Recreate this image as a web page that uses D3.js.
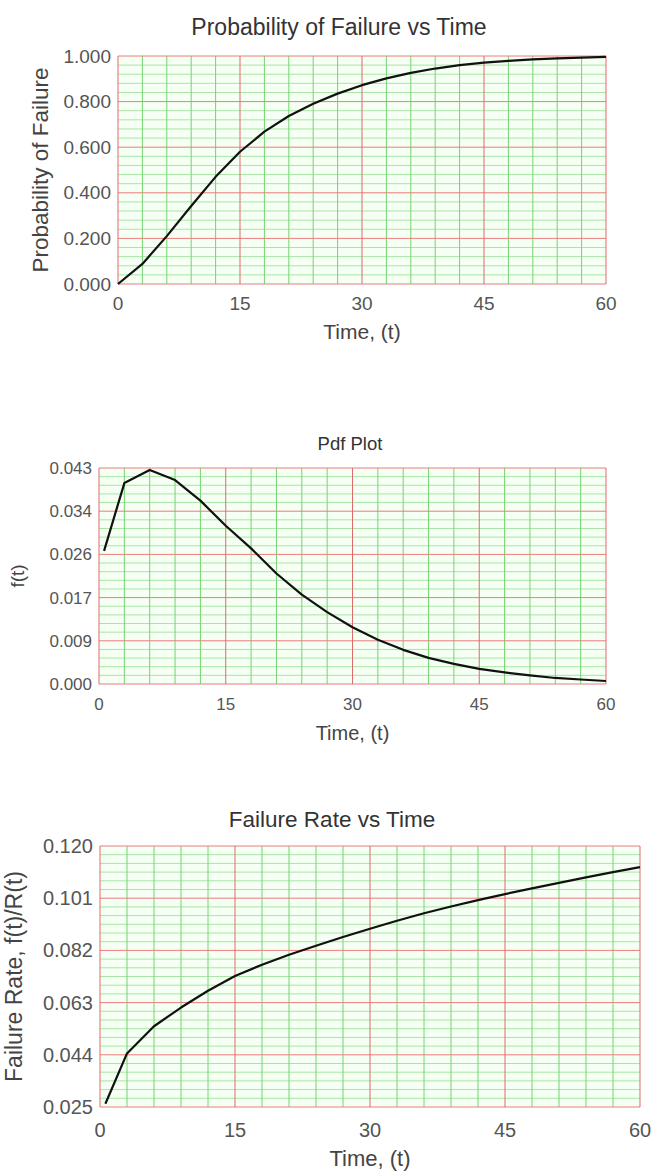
<!DOCTYPE html>
<html>
<head>
<meta charset="utf-8">
<script src="https://cdn.jsdelivr.net/npm/d3@7"></script>
<style>
  body { margin: 0; background: #fff; }
  svg { display: block; font-family: "Liberation Sans", Arial, sans-serif; }
</style>
</head>
<body>
<svg id="chart" width="661" height="1176"></svg>
<script>
(function () {
  'use strict';

  var timeCdf = [0, 3, 6, 9, 12, 15, 18, 21, 24, 27, 30, 33, 36, 39, 42, 45, 48, 51, 54, 57, 60];
  var probFailure = [0, 0.088, 0.21, 0.342, 0.47, 0.58, 0.668, 0.737, 0.791, 0.835, 0.872,
    0.902, 0.926, 0.945, 0.96, 0.971, 0.979, 0.985, 0.99, 0.993, 0.996];

  var timePdf = [0.6, 3, 6, 9, 12, 15, 18, 21, 24, 27, 30, 33, 36, 39, 42, 45, 48, 51, 54, 57, 60];
  var pdfValues = [0.0265, 0.0400, 0.0426, 0.0406, 0.0365, 0.0315, 0.027, 0.022, 0.0178, 0.0143,
    0.0113, 0.0088, 0.0068, 0.0052, 0.0040, 0.0030, 0.0023, 0.0017, 0.0012, 0.0009, 0.0006];
  var failureRate = [0.0262, 0.0445, 0.0544, 0.0612, 0.0673, 0.0727, 0.0768, 0.0804, 0.0837, 0.0869,
    0.0899, 0.0928, 0.0955, 0.098, 0.1003, 0.1025, 0.1046, 0.1066, 0.1086, 0.1105, 0.1123];

  var xTicks = [0, 15, 30, 45, 60];
  var cdfTicks = [0, 0.2, 0.4, 0.6, 0.8, 1.0];
  var pdfTicks = [0, 0.0086, 0.0172, 0.0258, 0.0344, 0.043];
  var rateTicks = [0.025, 0.044, 0.063, 0.082, 0.101, 0.120];

  var svg = d3.select('#chart');

  var charts = [
    {
      title: 'Probability of Failure vs Time', titleX: 339, titleY: 27, titleSize: 23,
      yTitle: 'Probability of Failure', yTitleX: 40, yTitleSize: 22.5,
      xTitleY: 332, xTitleSize: 21, tickSize: 19, xLabY: 19,
      left: 118, right: 606, top: 56, bottom: 284,
      xs: timeCdf, ys: probFailure, yTicks: cdfTicks, ySub: 5
    },
    {
      title: 'Pdf Plot', titleX: 350, titleY: 444, titleSize: 18.5,
      yTitle: 'f(t)', yTitleX: 17, yTitleSize: 19,
      xTitleY: 733, xTitleSize: 20, tickSize: 17, xLabY: 20,
      left: 99, right: 606, top: 468, bottom: 684,
      xs: timePdf, ys: pdfValues, yTicks: pdfTicks, ySub: 5
    },
    {
      title: 'Failure Rate vs Time', titleX: 332, titleY: 819, titleSize: 22.5,
      yTitle: 'Failure Rate, f(t)/R(t)', yTitleX: 14, yTitleSize: 23,
      xTitleY: 1158, xTitleSize: 22, tickSize: 20, xLabY: 23,
      left: 100, right: 640, top: 846, bottom: 1107,
      xs: timePdf, ys: failureRate, yTicks: rateTicks, ySub: 6
    }
  ];

  charts.forEach(function (c) {
    var x = d3.scaleLinear().domain([0, 60]).range([c.left, c.right]);
    var y = d3.scaleLinear()
      .domain([c.yTicks[0], c.yTicks[c.yTicks.length - 1]])
      .range([c.bottom, c.top]);

    var g = svg.append('g');

    g.append('rect')
      .attr('x', c.left).attr('y', c.top)
      .attr('width', c.right - c.left).attr('height', c.bottom - c.top)
      .attr('fill', '#f5fff3');

    // minor horizontal lines
    var yMinor = [];
    for (var i = 0; i < c.yTicks.length - 1; i++) {
      var step = (c.yTicks[i + 1] - c.yTicks[i]) / c.ySub;
      for (var k = 1; k < c.ySub; k++) {
        yMinor.push(c.yTicks[i] + k * step);
      }
    }
    g.selectAll('.hminor').data(yMinor).enter().append('line')
      .attr('x1', c.left).attr('x2', c.right)
      .attr('y1', function (d) { return y(d); })
      .attr('y2', function (d) { return y(d); })
      .attr('stroke', '#a9e6a6').attr('stroke-width', 1);

    // minor vertical lines every 3 units
    var xMinor = d3.range(3, 60, 3).filter(function (d) { return d % 15 !== 0; });
    g.selectAll('.vminor').data(xMinor).enter().append('line')
      .attr('y1', c.top).attr('y2', c.bottom)
      .attr('x1', function (d) { return x(d); })
      .attr('x2', function (d) { return x(d); })
      .attr('stroke', '#74d471').attr('stroke-width', 1);

    // major grid
    g.selectAll('.hmajor').data(c.yTicks).enter().append('line')
      .attr('x1', c.left).attr('x2', c.right)
      .attr('y1', function (d) { return y(d); })
      .attr('y2', function (d) { return y(d); })
      .attr('stroke', '#ec7c7c').attr('stroke-width', 1);
    g.selectAll('.vmajor').data(xTicks).enter().append('line')
      .attr('y1', c.top).attr('y2', c.bottom)
      .attr('x1', function (d) { return x(d); })
      .attr('x2', function (d) { return x(d); })
      .attr('stroke', '#e06a6a').attr('stroke-width', 1);

    // curve
    var line = d3.line()
      .x(function (d) { return x(d[0]); })
      .y(function (d) { return y(d[1]); });
    g.append('path')
      .datum(d3.zip(c.xs, c.ys))
      .attr('d', line)
      .attr('fill', 'none')
      .attr('stroke', '#111')
      .attr('stroke-width', 2.2)
      .attr('stroke-linejoin', 'round');

    // tick labels
    g.selectAll('.xlab').data(xTicks).enter().append('text')
      .attr('x', function (d) { return x(d); })
      .attr('y', c.bottom + c.xLabY)
      .attr('dy', '0.35em')
      .attr('text-anchor', 'middle')
      .attr('font-size', c.tickSize)
      .attr('fill', '#555')
      .text(function (d) { return d; });
    g.selectAll('.ylab').data(c.yTicks).enter().append('text')
      .attr('x', c.left - 7)
      .attr('y', function (d) { return y(d); })
      .attr('dy', '0.35em')
      .attr('text-anchor', 'end')
      .attr('font-size', c.tickSize)
      .attr('fill', '#555')
      .text(function (d) { return d3.format('.3f')(d); });

    // titles
    g.append('text')
      .attr('x', c.titleX).attr('y', c.titleY).attr('dy', '0.35em')
      .attr('text-anchor', 'middle')
      .attr('font-size', c.titleSize)
      .attr('fill', '#333')
      .text(c.title);
    g.append('text')
      .attr('x', (c.left + c.right) / 2).attr('y', c.xTitleY).attr('dy', '0.35em')
      .attr('text-anchor', 'middle')
      .attr('font-size', c.xTitleSize)
      .attr('fill', '#444')
      .text('Time, (t)');
    g.append('text')
      .attr('transform', 'translate(' + c.yTitleX + ',' + ((c.top + c.bottom) / 2) + ') rotate(-90)')
      .attr('dy', '0.35em')
      .attr('text-anchor', 'middle')
      .attr('font-size', c.yTitleSize)
      .attr('fill', '#444')
      .text(c.yTitle);
  });
}());
</script>
</body>
</html>
